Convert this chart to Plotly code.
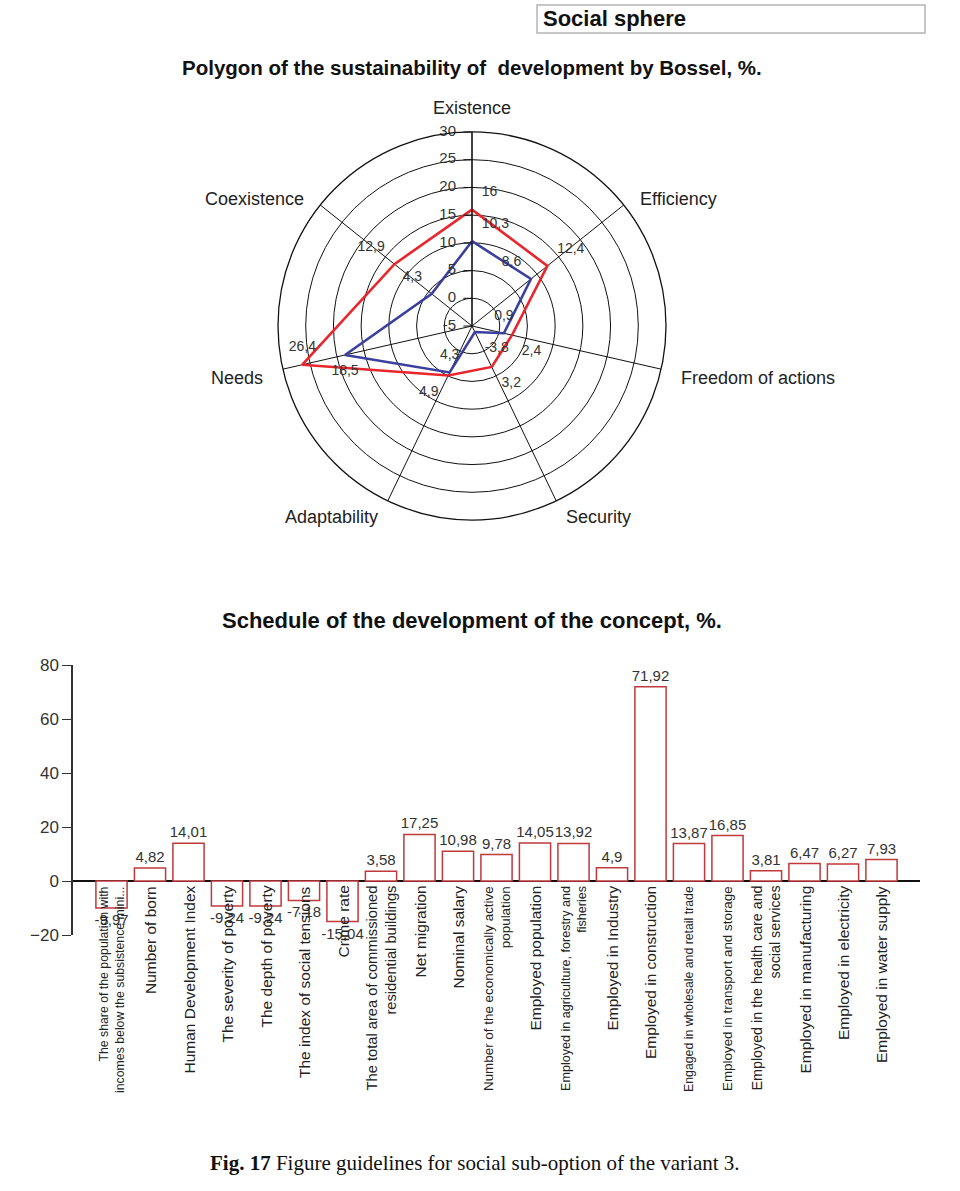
import math
import plotly.graph_objects as go

# ---------------- data ----------------
radar_axes = ["Existence", "Efficiency", "Freedom of actions", "Security",
              "Adaptability", "Needs", "Coexistence"]
red_values = [16, 12.4, 2.4, 3.2, 4.9, 26.4, 12.9]
blue_values = [10.3, 8.6, 0.9, -3.8, 4.3, 18.5, 4.3]
radial_ticks = [-5, 0, 5, 10, 15, 20, 25, 30]

categories = [
    "The share of the population with<br>incomes below the subsistence mini...",
    "Number of born",
    "Human Development Index",
    "The severity of poverty",
    "The depth of poverty",
    "The index of social tensions",
    "Crime rate",
    "The total area of commissioned<br>residential buildings",
    "Net migration",
    "Nominal salary",
    "Number of the economically active<br>population",
    "Employed population",
    "Employed in agriculture, forestry and<br>fisheries",
    "Employed in Industry",
    "Employed in construction",
    "Engaged in wholesale and retail trade",
    "Employed in transport and storage",
    "Employed in the health care and<br>social services",
    "Employed in manufacturing",
    "Employed in electricity",
    "Employed in water supply",
]
bar_values = [-9.97, 4.82, 14.01, -9.24, -9.24, -7.18, -15.04, 3.58, 17.25, 10.98,
              9.78, 14.05, 13.92, 4.9, 71.92, 13.87, 16.85, 3.81, 6.47, 6.27, 7.93]
bar_ticks = [-20, 0, 20, 40, 60, 80]

# ---------------- styles ----------------
FONT = "Liberation Sans, Arial, sans-serif"
W, H = 960, 1191
CX, CY, RAD = 472, 326, 194          # polar centre / radius in pixels
LABEL_R = 212                        # distance of the axis names from the centre
red_pos = ["top right", "top right", "bottom right", "bottom right",
           "bottom left", "top center", "top left"]
blue_pos = ["top right", "top left", "top center", "bottom right",
            "top center", "bottom center", "top left"]
# long labels are shrunk to fit, as in the original chart
label_sizes = [12.3, 15.5, 15.5, 15.5, 15.5, 15.5, 15.5, 14.7, 15.5, 15.5, 13.4,
               15.5, 12.6, 15.5, 15.5, 12.3, 13.4, 14.3, 15.5, 15.5, 15.5]


def fmt(v):
    return ("%g" % v).replace(".", ",")


def closed(lst):
    return list(lst) + [lst[0]]


def py(px):
    """pixel row from the top -> paper fraction"""
    return 1 - px / H


fig = go.Figure()

for vals, pos, col in [(red_values, red_pos, "#e8262b"),
                       (blue_values, blue_pos, "#3b3f9e")]:
    fig.add_trace(go.Scatterpolar(
        r=closed(vals), theta=closed(radar_axes),
        mode="lines+markers+text", text=[fmt(v) for v in vals] + [""],
        textposition=pos + ["top right"],
        textfont=dict(family=FONT, size=14, color="#333"),
        marker=dict(size=14, color="rgba(0,0,0,0)"),
        line=dict(color=col, width=2.6), showlegend=False, subplot="polar",
        hoverinfo="r+theta",
    ))

# radial tick labels, left of the Existence axis
fig.add_trace(go.Scatterpolar(
    r=radial_ticks, theta=[radar_axes[0]] * len(radial_ticks),
    mode="markers+text", text=[str(t) for t in radial_ticks],
    textposition="middle left", hoverinfo="skip",
    marker=dict(size=24, color="rgba(0,0,0,0)"),
    textfont=dict(family=FONT, size=15, color="#333"),
    showlegend=False, subplot="polar",
))

fig.add_trace(go.Bar(
    x=list(range(len(bar_values))), y=bar_values,
    text=[fmt(v) for v in bar_values], textposition="outside",
    constraintext="none", cliponaxis=False,
    textfont=dict(family=FONT, size=15, color="#333"),
    marker=dict(color="white", line=dict(color="#c0393b", width=1.5)),
    width=0.81, showlegend=False, xaxis="x", yaxis="y",
))

annotations = []
for i, name in enumerate(categories):
    annotations.append(dict(
        x=i, y=0, xref="x", yref="y", text=name, showarrow=False,
        textangle=-90, xanchor="center", yanchor="top", yshift=-3,
        align="right", font=dict(family=FONT, size=label_sizes[i], color="#222"),
    ))

# axis names of the polygon, placed around the outer circle
n = len(radar_axes)
for k, name in enumerate(radar_axes):
    ang = math.radians(90 - 360 * k / n)
    c, s = math.cos(ang), math.sin(ang)
    vertical = abs(c) < 0.1
    r = LABEL_R + (6 if vertical else 0)
    xa = "center" if vertical else ("left" if c > 0 else "right")
    ys = -5 if (not vertical and s > -0.5) else 0
    annotations.append(dict(
        x=(CX + r * c) / W, y=py(CY - r * s), xref="paper", yref="paper",
        text=name, showarrow=False, xanchor=xa, yanchor="middle", yshift=ys,
        font=dict(family=FONT, size=18, color="#222"),
    ))

annotations += [
    dict(x=472 / W, y=py(68), xref="paper", yref="paper", showarrow=False,
         xanchor="center", yanchor="middle",
         text="<b>Polygon of the sustainability of  development by Bossel, %.</b>",
         font=dict(family=FONT, size=20.5, color="#111")),
    dict(x=472 / W, y=py(620), xref="paper", yref="paper", showarrow=False,
         xanchor="center", yanchor="middle",
         text="<b>Schedule of the development of the concept, %.</b>",
         font=dict(family=FONT, size=22, color="#111")),
    dict(x=541 / W, y=py(19), xref="paper", yref="paper", showarrow=False,
         xanchor="left", yanchor="middle", text="<b>Social sphere</b>",
         font=dict(family=FONT, size=22, color="#111")),
    dict(x=475 / W, y=py(1163), xref="paper", yref="paper", showarrow=False,
         xanchor="center", yanchor="middle",
         text="<b>Fig. 17</b> Figure guidelines for social sub-option of the variant 3.",
         font=dict(family="Liberation Serif, serif", size=21, color="#111")),
]

fig.update_layout(
    template="none",
    width=W, height=H, autosize=False,
    margin=dict(l=0, r=0, t=0, b=0, pad=0, autoexpand=False),
    paper_bgcolor="white", plot_bgcolor="rgba(0,0,0,0)",
    font=dict(family=FONT, color="#333"),
    showlegend=False,
    polar=dict(
        domain=dict(x=[(CX - RAD) / W, (CX + RAD) / W],
                    y=[py(CY + RAD), py(CY - RAD)]),
        bgcolor="white",
        angularaxis=dict(direction="clockwise", rotation=90, type="category",
                         categoryarray=radar_axes, showticklabels=False,
                         showline=True, linecolor="#111", linewidth=1.3,
                         showgrid=True, gridcolor="#111", gridwidth=1.2,
                         ticks=""),
        radialaxis=dict(range=[-5, 30], tickvals=radial_ticks, angle=90,
                        side="counterclockwise", showticklabels=False,
                        showline=True, linecolor="#111", linewidth=1.2,
                        showgrid=True, gridcolor="#111", gridwidth=1.2,
                        ticks="outside", ticklen=8, tickcolor="#111"),
        gridshape="circular",
    ),
    xaxis=dict(domain=[73 / W, 920 / W], range=[-1.0, 21.0], automargin=False,
               showticklabels=False, showgrid=False, zeroline=False,
               showline=False, ticks=""),
    yaxis=dict(domain=[py(935), py(665)], range=[-20, 80], automargin=False,
               tickvals=bar_ticks, showgrid=False,
               zeroline=True, zerolinecolor="#111", zerolinewidth=1.5,
               showline=True, linecolor="#333", linewidth=1.5,
               ticks="outside", ticklen=9, tickcolor="#333",
               tickfont=dict(family=FONT, size=17, color="#333")),
    shapes=[dict(type="rect", xref="paper", yref="paper",
                 x0=537 / W, x1=925 / W, y0=py(33), y1=py(5),
                 line=dict(color="#b5b5b5", width=1.5))],
    annotations=annotations,
)

fig.write_html("out.html", config={"displayModeBar": False},
               post_script="document.body.style.margin='0';")
